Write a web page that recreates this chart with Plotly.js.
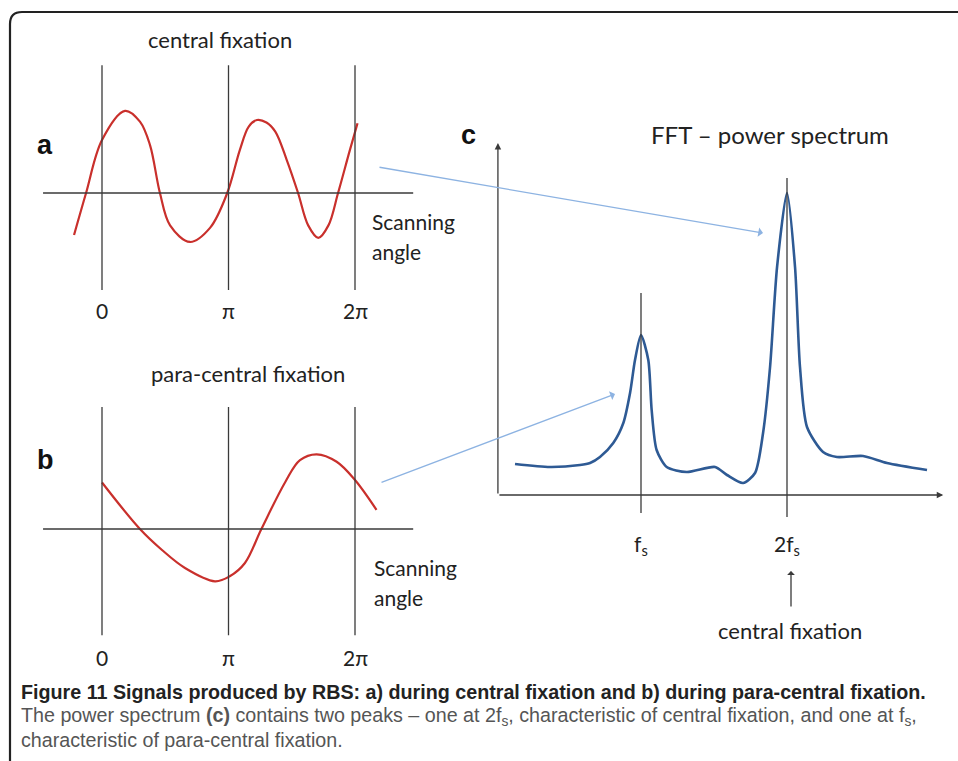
<!DOCTYPE html>
<html>
<head>
<meta charset="utf-8">
<script src="https://cdn.plot.ly/plotly-3.0.1.min.js"></script>
<style>html,body{margin:0;padding:0;background:#fff;}#chart{width:958px;height:761px;}</style>
</head>
<body>
<div id="chart"></div>
<script>
// ---- Data (x in units of pi for a/b, in units of fs for c) ----
const aX = [-0.221, -0.126, 0, 0.182, 0.300, 0.379, 0.458, 0.538, 0.696, 0.854, 0.99, 1.09, 1.16, 1.225, 1.30, 1.37, 1.46, 1.55, 1.63, 1.71, 1.79, 1.866, 1.96, 2.02];
const aY = [-0.506, 0, 0.639, 0.99, 0.86, 0.58, 0, -0.39, -0.59, -0.42, 0, 0.52, 0.80, 0.88, 0.85, 0.74, 0.40, 0, -0.39, -0.54, -0.39, 0, 0.52, 0.84];

const bX = [0, 0.30, 0.472, 0.656, 0.893, 1.01, 1.13, 1.26, 1.45, 1.565, 1.697, 1.855, 2.0, 2.17];
const bY = [0.56, 0, -0.25, -0.47, -0.63, -0.57, -0.41, 0, 0.57, 0.83, 0.90, 0.81, 0.59, 0.23];

const cX = [0.137, 0.377, 0.582, 0.651, 0.719, 0.81, 0.879, 0.925, 0.959, 1.0, 1.05, 1.073, 1.107, 1.176, 1.313, 1.507, 1.589, 1.699, 1.781, 1.836, 1.884, 1.932, 2.0, 2.055, 2.089, 2.137, 2.247, 2.342, 2.521, 2.685, 2.959];
const cY = [0.31, 0.28, 0.30, 0.32, 0.38, 0.52, 0.72, 1.02, 1.35, 1.60, 1.35, 0.85, 0.45, 0.28, 0.23, 0.28, 0.20, 0.12, 0.22, 0.62, 1.28, 2.28, 3.02, 2.28, 1.28, 0.68, 0.43, 0.38, 0.39, 0.32, 0.25];

const angleTicks = [0, 1, 2];
const angleTickText = ['0', 'π', '2π'];
const freqTicks = [1, 2];
const freqTickText = ['f<sub>s</sub>', '2f<sub>s</sub>'];

const titleA = 'central fixation';
const titleB = 'para-central fixation';
const titleC = 'FFT – power spectrum';
const captionBold = 'Figure 11 Signals produced by RBS: a) during central fixation and b) during para-central fixation.';
const captionL2 = 'The power spectrum <b>(c)</b> contains two peaks – one at 2f<sub>s</sub>, characteristic of central fixation, and one at f<sub>s</sub>,';
const captionL3 = 'characteristic of para-central fixation.';

// ---- Layout helpers ----
const W = 958, H = 761;
const px = v => v / W;
const py = v => 1 - v / H;
function xdom(o, s, r) { return [(o + s * r[0]) / W, (o + s * r[1]) / W]; }
function ydom(o, s, r) { return [1 - (o - s * r[0]) / H, 1 - (o - s * r[1]) / H]; }

const rAx = [-0.6, 2.8], rAy = [-1.6, 1.9], rBy = [-1.8, 1.9];
const rCx = [-0.2, 3.1], rCy = [-0.6, 3.8];

const FONT = 'Lato, "Open Sans", sans-serif';
const axCol = '#3a3a3a';
const red = '#c9302c';
const blue = '#2e5a94';
const light = '#8db3e2';

const hidden = { visible: false, fixedrange: true };

const traces = [
  { x: aX, y: aY, xaxis: 'x', yaxis: 'y', mode: 'lines', line: { color: red, width: 2.2, shape: 'spline', smoothing: 1 }, hoverinfo: 'skip' },
  { x: bX, y: bY, xaxis: 'x2', yaxis: 'y2', mode: 'lines', line: { color: red, width: 2.2, shape: 'spline', smoothing: 1 }, hoverinfo: 'skip' },
  { x: cX, y: cY, xaxis: 'x3', yaxis: 'y3', mode: 'lines', line: { color: blue, width: 2.6, shape: 'spline', smoothing: 0.7 }, hoverinfo: 'skip' }
];

const shapes = [];
// zero lines
shapes.push({ type: 'line', xref: 'x', yref: 'y', x0: -0.466, x1: 2.46, y0: 0, y1: 0, line: { color: axCol, width: 1.3 } });
shapes.push({ type: 'line', xref: 'x2', yref: 'y2', x0: -0.466, x1: 2.46, y0: 0, y1: 0, line: { color: axCol, width: 1.3 } });
// vertical lines at 0, pi, 2pi
angleTicks.forEach(t => {
  shapes.push({ type: 'line', xref: 'x', yref: 'y', x0: t, x1: t, y0: -1.17, y1: 1.54, line: { color: axCol, width: 1.3 } });
  shapes.push({ type: 'line', xref: 'x2', yref: 'y2', x0: t, x1: t, y0: -1.28, y1: 1.47, line: { color: axCol, width: 1.3 } });
});
// vertical lines at fs, 2fs
shapes.push({ type: 'line', xref: 'x3', yref: 'y3', x0: 1, x1: 1, y0: -0.18, y1: 2.02, line: { color: axCol, width: 1.3 } });
shapes.push({ type: 'line', xref: 'x3', yref: 'y3', x0: 2, x1: 2, y0: -0.22, y1: 3.17, line: { color: axCol, width: 1.3 } });
// frame (rounded top-left corner)
const fl = px(10), ft = py(12), rx = 12 / W, ry = 12 / H;
shapes.push({ type: 'path', xref: 'paper', yref: 'paper',
  path: `M ${fl},-0.01 L ${fl},${ft - ry} Q ${fl},${ft} ${fl + rx},${ft} L 1.01,${ft}`,
  line: { color: '#222', width: 2.2 } });

const annotations = [];
function txt(x, y, text, size, opts) {
  annotations.push(Object.assign({ xref: 'paper', yref: 'paper', x: px(x), y: py(y), text: text, showarrow: false,
    font: { family: FONT, size: size, color: '#222' }, xanchor: 'center', yanchor: 'middle' }, opts || {}));
}
// titles
txt(220, 40, titleA, 22);
txt(248, 373, titleB, 22);
txt(770, 135, titleC, 24);
// panel letters
const LET = { family: 'Liberation Sans, Arial, sans-serif', size: 27, color: '#111' };
txt(45, 145, '<b>a</b>', 27, { font: LET });
txt(45, 460, '<b>b</b>', 27, { font: LET });
txt(468, 135, '<b>c</b>', 27, { font: LET });
// scanning angle
txt(370, 221, 'Scanning', 21, { xanchor: 'left' });
txt(370, 251, 'angle', 21, { xanchor: 'left' });
txt(372, 567, 'Scanning', 21, { xanchor: 'left' });
txt(372, 597, 'angle', 21, { xanchor: 'left' });
// angle tick labels
angleTicks.forEach((t, i) => {
  annotations.push({ xref: 'x', yref: 'y', x: t, y: -1.41, text: angleTickText[i], showarrow: false,
    font: { family: FONT, size: 21, color: '#222' }, xanchor: 'center', yanchor: 'middle' });
  annotations.push({ xref: 'x2', yref: 'y2', x: t, y: -1.55, text: angleTickText[i], showarrow: false,
    font: { family: FONT, size: 21, color: '#222' }, xanchor: 'center', yanchor: 'middle' });
});
// frequency tick labels
freqTicks.forEach((t, i) => {
  annotations.push({ xref: 'x3', yref: 'y3', x: t, y: -0.5, text: freqTickText[i], showarrow: false,
    font: { family: FONT, size: 21, color: '#222' }, xanchor: 'center', yanchor: 'middle' });
});
// central fixation label with arrow
txt(790, 630, 'central fixation', 22);
annotations.push({ xref: 'paper', yref: 'paper', x: px(791), y: py(571), ax: 0, ay: 37, text: '', showarrow: true,
  arrowhead: 1, arrowsize: 1, arrowwidth: 1.3, arrowcolor: axCol });
// axes arrows for panel c
annotations.push({ xref: 'x3', yref: 'y3', x: 0.02, y: 3.52, axref: 'x3', ayref: 'y3', ax: 0.02, ay: 0, text: '', showarrow: true,
  arrowhead: 2, arrowsize: 1, arrowwidth: 1.3, arrowcolor: axCol });
annotations.push({ xref: 'x3', yref: 'y3', x: 3.07, y: 0, axref: 'x3', ayref: 'y3', ax: 0.02, ay: 0, text: '', showarrow: true,
  arrowhead: 2, arrowsize: 1, arrowwidth: 1.3, arrowcolor: axCol });
// light blue connecting arrows
annotations.push({ xref: 'paper', yref: 'paper', x: px(763), y: py(233), ax: 378 - 763, ay: 167 - 233, text: '', showarrow: true,
  arrowhead: 1, arrowsize: 1.2, arrowwidth: 1.3, arrowcolor: light });
annotations.push({ xref: 'paper', yref: 'paper', x: px(615), y: py(394), ax: 380 - 615, ay: 483 - 394, text: '', showarrow: true,
  arrowhead: 1, arrowsize: 1.2, arrowwidth: 1.3, arrowcolor: light });
// caption
const CAP = '"Liberation Sans", Arial, sans-serif';
txt(19, 692, '<b>' + captionBold + '</b>', 19.7, { xanchor: 'left', font: { family: CAP, size: 19.7, color: '#222' } });
txt(19, 716, captionL2, 19.7, { xanchor: 'left', font: { family: CAP, size: 19.7, color: '#555' } });
txt(19, 740, captionL3, 19.7, { xanchor: 'left', font: { family: CAP, size: 19.7, color: '#555' } });

const layout = {
  width: W, height: H,
  margin: { l: 0, r: 0, t: 0, b: 0 },
  paper_bgcolor: '#fff', plot_bgcolor: 'rgba(0,0,0,0)',
  showlegend: false,
  xaxis: Object.assign({ range: rAx, domain: xdom(102, 126.5, rAx), anchor: 'y' }, hidden),
  yaxis: Object.assign({ range: rAy, domain: ydom(193, 83, rAy), anchor: 'x' }, hidden),
  xaxis2: Object.assign({ range: rAx, domain: xdom(102, 126.5, rAx), anchor: 'y2' }, hidden),
  yaxis2: Object.assign({ range: rBy, domain: ydom(529, 83, rBy), anchor: 'x2' }, hidden),
  xaxis3: Object.assign({ range: rCx, domain: xdom(495, 146, rCx), anchor: 'y3' }, hidden),
  yaxis3: Object.assign({ range: rCy, domain: ydom(495, 100, rCy), anchor: 'x3' }, hidden),
  shapes: shapes,
  annotations: annotations
};

Plotly.newPlot('chart', traces, layout, { displayModeBar: false, staticPlot: true });
</script>
</body>
</html>
